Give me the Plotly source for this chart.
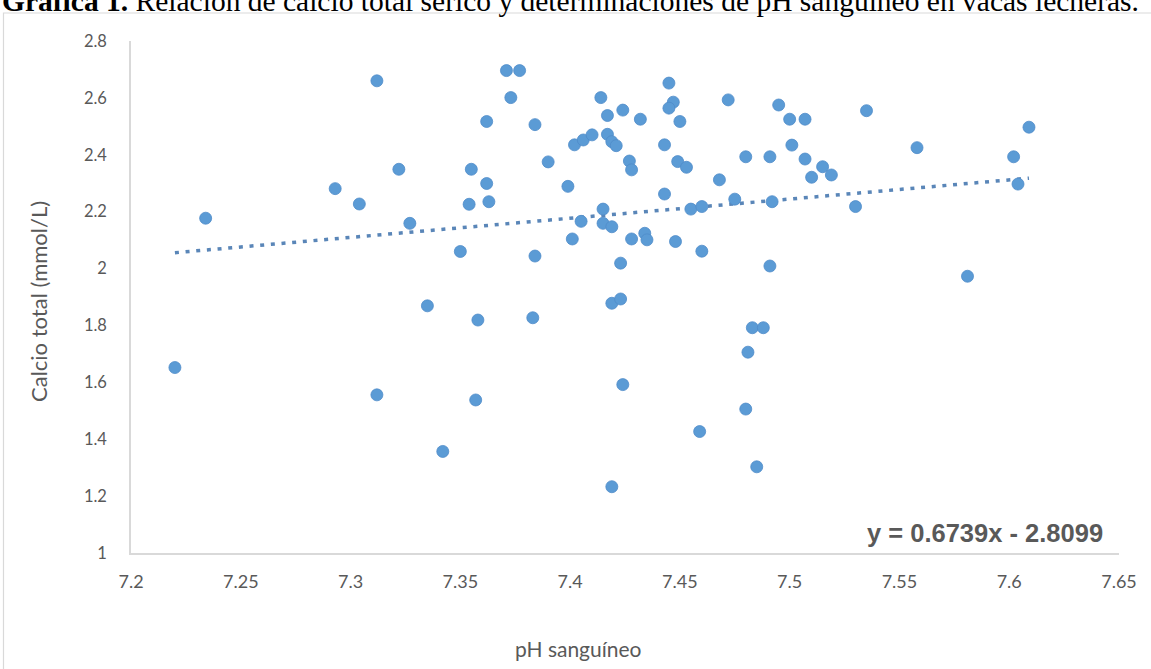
import plotly.graph_objects as go

# Blood pH and total serum calcium per cow
ph = [
    7.220, 7.234, 7.293, 7.304, 7.312, 7.322, 7.327,
    7.371, 7.377, 7.373, 7.362, 7.384, 7.355, 7.362, 7.354, 7.363, 7.350,
    7.384, 7.390, 7.399, 7.402, 7.406, 7.410, 7.414, 7.417, 7.424, 7.432,
    7.417, 7.419, 7.421, 7.427, 7.428, 7.401, 7.405, 7.415, 7.415, 7.419,
    7.428, 7.434, 7.435, 7.423,
    7.445, 7.447, 7.445, 7.450, 7.443, 7.449, 7.453, 7.443, 7.455, 7.460,
    7.448, 7.460, 7.468, 7.472, 7.475, 7.480, 7.491, 7.495, 7.500, 7.501,
    7.492, 7.491,
    7.507, 7.507, 7.515, 7.510, 7.519, 7.530, 7.535, 7.558, 7.581, 7.609,
    7.602, 7.604,
    7.335, 7.312, 7.357, 7.342, 7.358, 7.383, 7.419, 7.423, 7.424, 7.419,
    7.459, 7.480, 7.481, 7.483, 7.488, 7.485,
]
calcio = [
    1.652, 2.177, 2.281, 2.227, 2.660, 2.349, 2.159,
    2.696, 2.696, 2.601, 2.517, 2.506, 2.349, 2.299, 2.226, 2.235, 2.060,
    2.044, 2.375, 2.289, 2.435, 2.452, 2.470, 2.601, 2.538, 2.557, 2.525,
    2.472, 2.446, 2.432, 2.378, 2.347, 2.104, 2.166, 2.209, 2.159, 2.147,
    2.104, 2.124, 2.101, 2.019,
    2.652, 2.585, 2.564, 2.517, 2.435, 2.376, 2.356, 2.262, 2.209, 2.218,
    2.095, 2.061, 2.312, 2.593, 2.244, 2.393, 2.393, 2.575, 2.525, 2.434,
    2.235, 2.009,
    2.525, 2.385, 2.358, 2.321, 2.329, 2.218, 2.555, 2.425, 1.973, 2.497,
    2.393, 2.297,
    1.869, 1.556, 1.538, 1.357, 1.819, 1.827, 1.878, 1.893, 1.592, 1.233,
    1.427, 1.506, 1.706, 1.792, 1.792, 1.303,
]

# Linear trend reported on the chart
slope = 0.6739
intercept = -2.8099

x_ticks = [7.2, 7.25, 7.3, 7.35, 7.4, 7.45, 7.5, 7.55, 7.6, 7.65]
x_tick_text = ["7.2", "7.25", "7.3", "7.35", "7.4", "7.45", "7.5", "7.55", "7.6", "7.65"]
y_ticks = [1, 1.2, 1.4, 1.6, 1.8, 2, 2.2, 2.4, 2.6, 2.8]
y_tick_text = ["1", "1.2", "1.4", "1.6", "1.8", "2", "2.2", "2.4", "2.6", "2.8"]

title_bold = "Gráfica 1."
title_rest = "Relación de calcio total sérico y determinaciones de pH sanguíneo en vacas lecheras."
x_title = "pH sanguíneo"
y_title = "Calcio total (mmol/L)"

W, H = 1151, 669
ML, MR, MT, MB = 131, 32, 41, 116
PW, PH = W - ML - MR, H - MT - MB


def px(x):
    return (x - ML) / PW


def py(y):
    return (H - MB - y) / PH


BLUE = "#5b9bd5"
GREY = "#595959"

fig = go.Figure()

trend_x = [min(ph), max(ph)]
trend_y = [slope * v + intercept for v in trend_x]
fig.add_trace(go.Scatter(
    x=trend_x, y=trend_y, mode="lines",
    line=dict(color="#5a86b8", width=3.5, dash="4px,6.7px"),
    hoverinfo="skip", showlegend=False,
))

fig.add_trace(go.Scatter(
    x=ph, y=calcio, mode="markers",
    marker=dict(size=12, color=BLUE, line=dict(color="#4f8cc9", width=0.8)),
    showlegend=False,
))

eq_text = f"y = {slope}x - {abs(intercept)}"

fig.update_layout(
    width=W, height=H,
    margin=dict(l=ML, r=MR, t=MT, b=MB),
    paper_bgcolor="white", plot_bgcolor="white",
    font=dict(family="Lato, Carlito, sans-serif", color=GREY),
    xaxis=dict(
        range=[7.2, 7.65], tickvals=x_ticks, ticktext=x_tick_text,
        showgrid=False, zeroline=False, showline=True,
        linecolor="#d9d9d9", linewidth=1.5, ticks="",
        tickfont=dict(family="Liberation Sans Narrow, Lato, sans-serif", size=18, color=GREY),
        ticklabelstandoff=12,
    ),
    yaxis=dict(
        range=[1, 2.8], tickvals=y_ticks, ticktext=y_tick_text,
        showgrid=False, zeroline=False, showline=True,
        linecolor="#d9d9d9", linewidth=1.5, ticks="",
        tickfont=dict(size=16.5, color=GREY), ticklabelstandoff=19,
    ),
    annotations=[
        dict(text=f"<b>{title_bold}</b> {title_rest}", xref="paper", yref="paper",
             x=px(0), y=py(19), xanchor="left", yanchor="bottom", showarrow=False,
             font=dict(family="Liberation Serif, Times New Roman, serif", size=29.5, color="black")),
        dict(text=y_title, xref="paper", yref="paper", x=px(38), y=py(302),
             xanchor="center", yanchor="middle", textangle=-90, showarrow=False,
             font=dict(size=22, color=GREY)),
        dict(text=x_title, xref="paper", yref="paper", x=px(578), y=py(648),
             xanchor="center", yanchor="middle", showarrow=False,
             font=dict(size=21, color=GREY)),
        dict(text=f"<b>{eq_text}</b>", xref="paper", yref="paper", x=px(1105), y=py(533),
             xanchor="right", yanchor="middle", showarrow=False,
             font=dict(family="Liberation Sans, Arial, sans-serif", size=25.5, color=GREY)),
    ],
    shapes=[
        dict(type="rect", xref="paper", yref="paper",
             x0=px(3.5), x1=px(1153), y0=py(671), y1=py(13),
             line=dict(color="#d9d9d9", width=1.2), layer="below"),
    ],
)

fig.write_html("out.html")
